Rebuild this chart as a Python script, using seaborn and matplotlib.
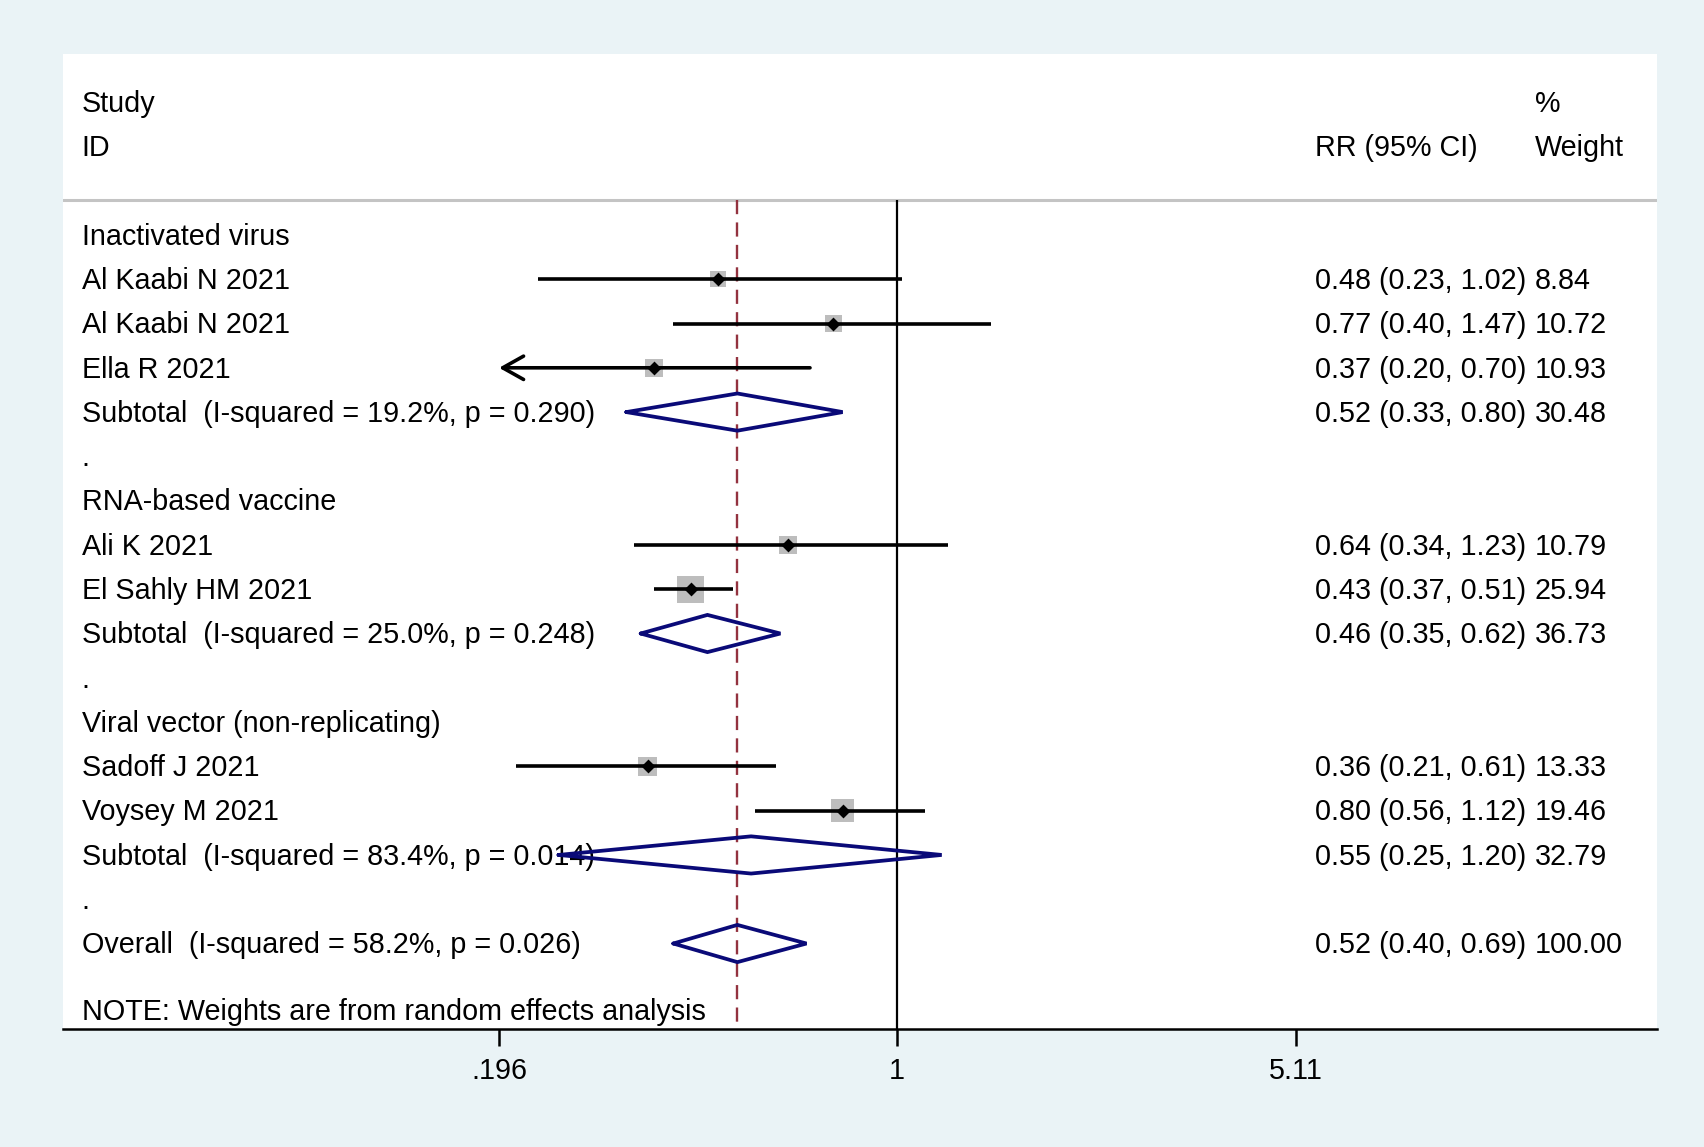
import matplotlib
matplotlib.use("Agg")
import matplotlib.pyplot as plt
import matplotlib.transforms as mtransforms
import numpy as np
import pandas as pd
import seaborn as sns

# study level data
study_labels = ["Al Kaabi N 2021", "Al Kaabi N 2021", "Ella R 2021",
                "Ali K 2021", "El Sahly HM 2021",
                "Sadoff J 2021", "Voysey M 2021"]
study_rows = [1, 2, 3, 7, 8, 12, 13]
rr = [0.48, 0.77, 0.37, 0.64, 0.43, 0.36, 0.80]
ci_lo = [0.23, 0.40, 0.20, 0.34, 0.37, 0.21, 0.56]
ci_hi = [1.02, 1.47, 0.70, 1.23, 0.51, 0.61, 1.12]
weights = [8.84, 10.72, 10.93, 10.79, 25.94, 13.33, 19.46]
ci_arrow = [False, False, True, False, False, False, False]

# pooled estimates
pooled_labels = ["Subtotal  (I-squared = 19.2%, p = 0.290)",
                 "Subtotal  (I-squared = 25.0%, p = 0.248)",
                 "Subtotal  (I-squared = 83.4%, p = 0.014)",
                 "Overall  (I-squared = 58.2%, p = 0.026)"]
pooled_rows = [4, 9, 14, 16]
pooled_rr = [0.52, 0.46, 0.55, 0.52]
pooled_lo = [0.33, 0.35, 0.25, 0.40]
pooled_hi = [0.80, 0.62, 1.20, 0.69]
pooled_w = [30.48, 36.73, 32.79, 100.00]

group_labels = ["Inactivated virus", "RNA-based vaccine", "Viral vector (non-replicating)"]
group_rows = [0, 6, 11]
dot_rows = [5, 10, 15]

x_ticks = [0.196, 1, 5.11]
x_ticklabels = [".196", "1", "5.11"]
note = "NOTE: Weights are from random effects analysis"

BG = "#EAF3F6"
FS = 20.7

sns.set_theme(style="white")
plt.rcParams['font.family'] = ['Liberation Sans', 'DejaVu Sans']
plt.rcParams['text.color'] = 'black'
plt.rcParams['xtick.color'] = 'black'
plt.rcParams['xtick.labelcolor'] = 'black'

fig = plt.figure(figsize=(17.04, 11.47), dpi=100, facecolor=BG)
ax = fig.add_axes([0.0370, 0.1025, 0.9356, 0.8502])
ax.set_facecolor("white")
ax.set_xscale("log")
ax.set_xlim(0.0329, 22.46)
y_bottom, y_top = 17.94, -4.08
ax.set_ylim(y_bottom, y_top)
sep_y = -0.79

# reference lines
ax.vlines(1, sep_y, y_bottom, color="black", lw=1.6, zorder=2)
ax.vlines(pooled_rr[-1], sep_y, y_bottom, color="#93323F", lw=1.7,
          linestyles=(0, (6, 3.5)), zorder=2)
ax.axhline(sep_y, color="#C4C4C4", lw=2.2, zorder=1)

df = pd.DataFrame({"label": study_labels, "row": study_rows, "rr": rr,
                   "lo": ci_lo, "hi": ci_hi, "w": weights, "arrow": ci_arrow})

# weight boxes
ax.scatter(df["rr"], df["row"], s=np.array(df["w"]) * 14.6, marker="s",
           color="#BDBDBD", edgecolor="none", zorder=3)

# confidence intervals
for _, r in df.iterrows():
    if r["arrow"]:
        ax.annotate("", xy=(x_ticks[0], r["row"]), xytext=(r["hi"], r["row"]),
                    arrowprops=dict(arrowstyle="->,head_length=0.5,head_width=0.28",
                                    lw=2.6, color="black", mutation_scale=30,
                                    shrinkA=0, shrinkB=0), zorder=4)
    else:
        ax.plot([r["lo"], r["hi"]], [r["row"], r["row"]], color="black",
                lw=2.6, solid_capstyle="butt", zorder=4)

sns.scatterplot(data=df, x="rr", y="row", marker="D", s=50, color="black",
                edgecolor="black", linewidth=0, ax=ax, zorder=5, legend=False)

# pooled diamonds
h = 0.42
for est, lo, hi, row in zip(pooled_rr, pooled_lo, pooled_hi, pooled_rows):
    ax.plot([lo, est, hi, est, lo], [row, row - h, row, row + h, row],
            color="#0A0A78", lw=2.7, solid_joinstyle="miter", zorder=6)

# text columns
trans = mtransforms.blended_transform_factory(ax.transAxes, ax.transData)
x_lab, x_rr, x_w = 0.0116, 0.7853, 0.9230
dy = 0.04


def put(x, y, s):
    ax.text(x, y + dy, s, transform=trans, fontsize=FS, va="center", color="black")


put(x_lab, -3, "Study")
put(x_lab, -2, "ID")
put(x_rr, -2, "RR (95% CI)")
put(x_w, -3, "%")
put(x_w, -2, "Weight")

for lab, row in zip(group_labels, group_rows):
    put(x_lab, row, lab)
for row in dot_rows:
    put(x_lab, row, ".")
for lab, row, est, lo, hi, w in zip(study_labels, study_rows, rr, ci_lo, ci_hi, weights):
    put(x_lab, row, lab)
    put(x_rr, row, f"{est:.2f} ({lo:.2f}, {hi:.2f})")
    put(x_w, row, f"{w:.2f}")
for lab, row, est, lo, hi, w in zip(pooled_labels, pooled_rows, pooled_rr,
                                    pooled_lo, pooled_hi, pooled_w):
    put(x_lab, row, lab)
    put(x_rr, row, f"{est:.2f} ({lo:.2f}, {hi:.2f})")
    put(x_w, row, f"{w:.2f}")
put(x_lab, 17.5, note)

# axes styling
for side in ["top", "right", "left"]:
    ax.spines[side].set_visible(False)
ax.spines["bottom"].set_color("black")
ax.spines["bottom"].set_linewidth(1.8)
ax.set_yticks([])
ax.set_xticks(x_ticks)
ax.set_xticklabels(x_ticklabels)
ax.minorticks_off()
ax.tick_params(axis="x", which="major", direction="out", length=12, width=1.8,
               color="black", labelcolor="black", labelsize=FS, pad=8, bottom=True)
ax.set_xlabel("")
ax.set_ylabel("")

fig.savefig("out.png", dpi=100, facecolor=fig.get_facecolor())
